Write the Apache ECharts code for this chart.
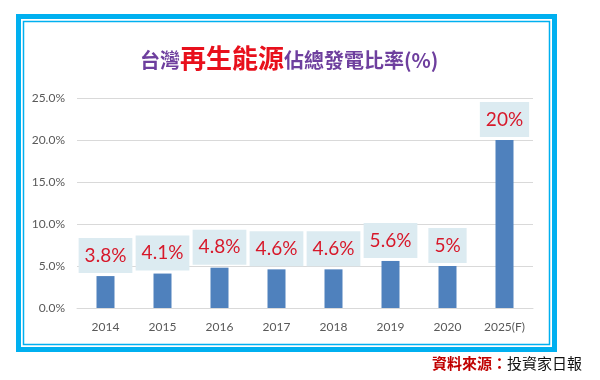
<!DOCTYPE html>
<html><head><meta charset="utf-8">
<script src="https://cdn.jsdelivr.net/npm/echarts@6/dist/echarts.min.js"></script>
<style>html,body{margin:0;padding:0;background:#fff}#c{width:600px;height:380px}</style>
</head><body><div id="c"></div>
<script>
const categories = ['2014','2015','2016','2017','2018','2019','2020','2025(F)'];
const values = [3.8, 4.1, 4.8, 4.6, 4.6, 5.6, 5, 20];
const valueLabels = ['3.8%','4.1%','4.8%','4.6%','4.6%','5.6%','5%','20%'];
const yTicks = [0, 5, 10, 15, 20, 25];

const chart = echarts.init(document.getElementById('c'), null, {renderer:'canvas'});
const cjk = '"Noto Sans CJK TC", "Noto Sans CJK SC", sans-serif';
chart.setOption({
  backgroundColor: '#fff',
  animation: false,
  title: {
    left: 135, top: 40,
    text: '{a|台灣}{b|再生能源}{a|佔總發電比率(%)}',
    textStyle: {
      rich: {
        a: {fontFamily: cjk, fontSize: 20, color: '#6e3f9e', verticalAlign: 'bottom', padding:[0,0,1,0]},
        b: {fontFamily: cjk, fontSize: 26, fontWeight: 'bold', color: '#e8101c', verticalAlign: 'bottom'}
      }
    }
  },
  grid: {left: 77, right: 67, top: 98, bottom: 72, outerBoundsMode: 'none', containLabel: false},
  xAxis: {
    type: 'category', data: categories,
    axisTick: {show: false},
    axisLine: {lineStyle: {color: '#d9d9d9', width: 1}},
    axisLabel: {color: '#595959', fontSize: 12, fontFamily: 'Lato, sans-serif', margin: 13}
  },
  yAxis: {
    type: 'value', min: yTicks[0], max: yTicks[yTicks.length-1], interval: 5,
    axisLine: {show: false}, axisTick: {show: false},
    splitLine: {lineStyle: {color: '#d9d9d9', width: 1}},
    axisLabel: {color: '#595959', fontSize: 12, fontFamily: 'Lato, sans-serif', margin: 12,
      formatter: v => v.toFixed(1) + '%'}
  },
  series: [{
    type: 'bar', data: values, barWidth: 18,
    itemStyle: {color: '#4f81bd'},
    label: {
      show: true, position: 'top', distance: 3,
      formatter: p => valueLabels[p.dataIndex],
      color: '#d7182a', fontSize: 19, fontFamily: 'Lato, sans-serif',
      backgroundColor: '#dcebf1', padding: [8, 6, 8, 6]
    }
  }],
  graphic: [
    {type: 'rect', shape: {x: 18.5, y: 16.5, width: 536, height: 333}, style: {fill: null, stroke: '#00b0f0', lineWidth: 5}, z: 100},
    {type: 'rect', shape: {x: 23.5, y: 21.5, width: 526, height: 323}, style: {fill: null, stroke: '#00b0f0', lineWidth: 1.5}, z: 100},
    {type: 'text', left: 432, top: 356, z: 100,
      style: {
        text: '{r|資料來源：}{k|投資家日報}',
        rich: {
          r: {fontFamily: cjk, fontSize: 15, fontWeight: 'bold', fill: '#c00000'},
          k: {fontFamily: cjk, fontSize: 15, fill: '#111'}
        }
      }
    }
  ]
});
</script></body></html>
